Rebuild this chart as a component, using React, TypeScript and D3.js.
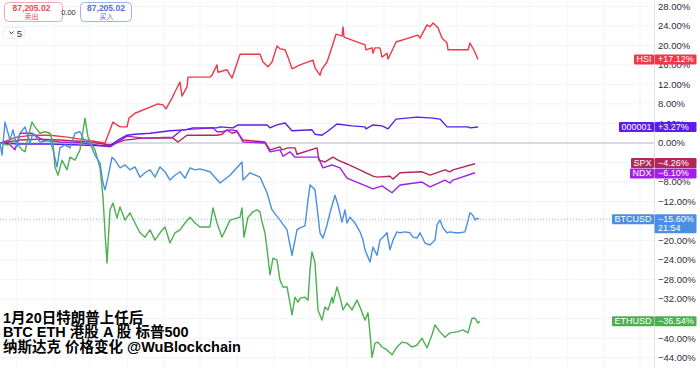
import React from 'react';
import * as d3 from 'd3';

type P = [number, number];

// [day offset, % change]
const HSI: P[] = [
  [0, 0], [1.7, 1.2], [3.2, 1.6], [5.0, 1.6], [6.7, 1.2], [8.7, 0.6], [10.5, 0], [11.3, 4.3], [11.7, 3.7], [12.0, 3.3],
  [12.7, 3.3], [12.9, 5.1], [13.5, 6.1], [15.8, 8.0], [16.3, 7.8], [16.6, 7.0], [17.2, 9.2], [17.5, 10.5], [18.0, 12.5],
  [18.2, 9.6], [18.7, 11.5], [18.8, 13.5], [21.0, 13.5], [21.2, 13.9], [21.7, 16.0], [21.8, 14.5], [22.7, 15.0],
  [23.2, 13.3], [23.3, 13.9], [24.0, 18.2], [26.0, 18.2], [26.3, 16.6], [26.8, 15.6], [27.2, 16.6], [27.7, 19.9],
  [28.0, 19.3], [28.5, 19.1], [28.8, 17.6], [29.2, 15.2], [30.0, 16.0], [31.3, 17.0], [31.5, 15.4], [32.0, 13.9],
  [32.2, 15.2], [32.7, 16.6], [33.0, 18.4], [33.6, 22.3], [34.2, 21.9], [34.3, 23.8], [34.4, 21.7], [36.5, 20.1],
  [36.6, 19.1], [37.2, 19.5], [37.3, 18.4], [37.5, 19.5], [38.0, 19.5], [38.2, 17.6], [38.7, 18.4], [38.8, 17.2],
  [39.3, 19.3], [39.6, 20.7], [41.8, 22.1], [42.0, 21.5], [42.7, 24.2], [43.0, 23.8], [43.3, 24.6], [43.8, 23.6],
  [44.2, 21.5], [44.7, 20.5], [44.8, 19.1], [46.8, 19.1], [47.0, 20.5], [47.5, 18.6], [47.8, 17.12],
];

const SSE: P[] = [
  [0, 0], [2.0, -0.2], [5.0, -0.2], [8.0, -0.4], [11.0, -0.6], [11.8, 0.6], [12.7, 1.6], [13.5, 1.8], [15.0, 2.0],
  [17.0, 2.5], [18.5, 2.7], [19.3, 3.1], [21.7, 3.1], [22.0, 3.3], [23.3, 3.1], [23.8, 3.7], [26.7, 3.7], [27.0, 3.1],
  [27.7, 3.7], [28.5, 4.1], [29.2, 2.5], [31.2, 2.7], [31.5, 1.8], [32.2, 1.6], [32.7, 2.3], [33.7, 3.9], [35.2, 3.5],
  [36.5, 3.3], [36.6, 2.9], [37.3, 3.7], [38.2, 3.5], [38.8, 2.9], [39.6, 4.9], [41.7, 5.3], [43.3, 5.1], [44.0, 4.9],
  [44.7, 3.3], [46.8, 3.3], [47.0, 3.1], [47.8, 3.27],
];

const SPX: P[] = [
  [0, 0], [2.0, 0.6], [4.0, 0.8], [6.0, 0.6], [9.0, 0.2], [11.0, -0.4], [12.5, 0.6], [14.3, 1.0], [17.3, 1.0],
  [17.8, 0.2], [18.7, 1.6], [21.7, 1.6], [22.2, 1.8], [22.7, 2.7], [23.2, 2.0], [23.7, 2.3], [24.3, 0.6], [26.5, 0.2],
  [27.0, -1.4], [28.0, -0.8], [28.2, -1.4], [28.8, -1.0], [29.5, -1.0], [29.7, -2.3], [31.7, -1.0], [31.9, -3.5],
  [32.5, -3.9], [32.8, -3.5], [33.3, -2.9], [33.8, -3.5], [34.7, -4.3], [37.3, -6.8], [37.7, -7.0], [39.0, -6.8],
  [39.3, -7.4], [40.0, -6.1], [42.2, -5.9], [43.0, -6.6], [44.5, -5.5], [45.0, -5.9], [45.3, -5.5], [47.5, -4.26],
];

const NDX: P[] = [
  [0, 0], [0.8, 0], [1.5, -1.4], [2.0, 2.0], [3.2, 2.0], [4.3, 0.6], [6.0, 0.2], [8.3, 0], [11.0, -0.8], [12.7, 1.4],
  [14.3, 1.0], [17.3, 1.2], [18.2, 2.7], [21.3, 3.1], [21.7, 2.3], [22.2, 2.3], [23.0, 2.7], [23.7, 2.5], [24.3, 0.2],
  [26.5, 0], [27.0, -1.8], [28.0, -1.4], [28.3, -2.7], [29.0, -1.8], [29.5, -2.9], [30.7, -2.9], [31.8, -2.9],
  [32.3, -5.1], [33.2, -4.5], [34.0, -5.1], [34.7, -7.2], [37.3, -9.4], [38.2, -8.8], [39.2, -10.2], [40.0, -8.6],
  [42.2, -8.0], [43.0, -9.0], [44.5, -7.6], [45.0, -8.2], [45.3, -7.6], [47.5, -6.1],
];

const BTC: P[] = [
  [0, 0], [0.2, -2.5], [0.5, 4.3], [1.0, 0.6], [1.3, 2.7], [1.7, -0.8], [2.0, 2.0], [2.5, 3.3], [3.0, 0], [3.3, 2.0],
  [4.0, 0.2], [5.0, 0.6], [5.3, -1.4], [5.7, -4.9], [6.0, -1.0], [6.5, -0.4], [7.0, -1.0], [7.5, 2.0], [8.0, 2.3],
  [8.5, 0.2], [9.0, 0], [9.5, -2.5], [10.0, -4.1], [10.3, -8.2], [10.5, -9.6], [10.8, -7.0], [11.2, -2.9], [11.5, -3.5],
  [12.0, -5.1], [12.5, -4.5], [13.0, -5.5], [13.5, -4.9], [14.0, -7.0], [14.5, -6.1], [15.0, -5.5], [15.5, -7.0],
  [16.0, -4.9], [16.5, -5.9], [17.0, -7.6], [17.5, -6.6], [18.0, -5.9], [18.5, -7.2], [19.0, -5.1], [19.5, -5.5],
  [20.0, -5.3], [21.0, -5.9], [22.0, -8.2], [23.0, -6.6], [24.2, -3.9], [24.3, -7.6], [25.0, -6.1], [26.0, -7.0],
  [26.7, -10.2], [27.2, -13.7], [28.0, -15.8], [28.7, -17.8], [29.2, -23.0], [29.7, -17.8], [30.0, -17.4],
  [30.5, -17.0], [30.8, -11.7], [31.0, -8.6], [31.5, -9.6], [31.8, -14.8], [32.0, -18.4], [32.3, -19.5],
  [32.7, -16.8], [33.0, -14.3], [33.5, -10.7], [33.8, -12.7], [34.2, -16.2], [34.5, -13.7], [34.7, -16.4],
  [35.0, -15.2], [35.5, -16.4], [36.0, -18.2], [36.3, -19.9], [36.5, -21.9], [37.0, -24.4], [37.3, -21.3],
  [37.7, -23.0], [38.0, -19.9], [38.3, -19.3], [38.7, -18.4], [39.0, -21.9], [39.3, -19.9], [39.7, -18.2],
  [40.0, -18.4], [40.5, -18.2], [41.0, -18.4], [41.3, -19.3], [41.7, -19.5], [42.0, -18.4], [42.5, -20.5],
  [43.0, -20.9], [43.5, -19.9], [43.7, -16.8], [44.0, -15.8], [44.3, -17.4], [44.7, -18.4], [45.0, -18.2],
  [45.5, -18.4], [46.0, -18.4], [46.5, -18.2], [47.0, -14.3], [47.3, -14.8], [47.5, -15.8], [47.7, -15.4], [47.9, -15.6],
];

const ETH: P[] = [
  [0, 0], [0.8, -0.4], [1.5, 0.6], [2.2, -1.4], [2.5, -1.8], [2.8, 1.2], [3.2, 4.3], [3.5, 3.3], [4.0, 2.0], [4.5, 2.3],
  [5.0, 2.0], [5.3, 0], [5.5, -4.9], [5.8, -6.6], [6.2, -3.5], [6.7, -5.5], [7.0, -2.9], [7.5, -3.5], [8.0, -1.4],
  [8.5, 5.1], [8.8, 1.2], [9.2, -0.4], [9.5, -1.4], [10.0, -5.1], [10.3, -11.1], [10.5, -18.4], [10.7, -24.6],
  [11.0, -13.7], [11.3, -12.3], [11.7, -15.4], [12.0, -13.1], [12.5, -15.8], [13.0, -14.3], [13.5, -16.4],
  [14.0, -18.4], [14.5, -19.3], [15.0, -17.8], [15.5, -19.9], [16.0, -18.4], [16.5, -17.2], [17.0, -20.5],
  [17.5, -18.4], [18.0, -17.8], [18.5, -16.4], [19.0, -15.2], [19.5, -16.4], [20.0, -17.2], [21.0, -17.2],
  [21.3, -13.3], [21.7, -16.4], [22.2, -19.3], [23.0, -15.8], [24.0, -15.2], [24.2, -13.3], [24.4, -19.3],
  [24.8, -15.2], [25.3, -14.1], [25.7, -13.7], [26.0, -14.1], [26.2, -16.2], [26.5, -18.4], [26.8, -23.4],
  [27.0, -27.0], [27.3, -23.6], [27.7, -24.0], [28.0, -28.1], [28.3, -29.5], [28.7, -29.5], [29.0, -32.8],
  [29.2, -35.2], [29.5, -31.6], [29.8, -32.6], [30.0, -31.8], [30.5, -31.6], [30.8, -32.2], [31.0, -26.0],
  [31.2, -22.3], [31.5, -24.6], [31.8, -34.2], [32.2, -36.3], [32.5, -33.6], [32.8, -34.2], [33.2, -31.6],
  [33.3, -32.8], [33.7, -29.5], [34.0, -31.6], [34.3, -34.2], [34.7, -32.8], [35.2, -34.2], [35.7, -32.2],
  [36.0, -33.6], [36.5, -36.3], [36.8, -34.8], [37.0, -38.9], [37.2, -43.9], [37.5, -41.0], [37.8, -40.8],
  [38.2, -41.8], [38.7, -42.4], [39.2, -43.4], [39.7, -41.8], [40.2, -40.8], [40.7, -41.0], [41.2, -41.8],
  [41.7, -41.4], [42.2, -40.0], [42.7, -42.0], [43.2, -39.3], [43.5, -37.3], [44.0, -38.7], [44.5, -39.8],
  [45.0, -38.9], [45.7, -38.7], [46.3, -38.3], [46.8, -38.9], [47.2, -35.9], [47.5, -35.9], [47.8, -36.9], [48.0, -36.54],
];

const Y_TICKS = [28, 24, 20, 16, 12, 8, 4, 0, -4, -8, -12, -16, -20, -24, -28, -32, -36, -40, -44];
const X_GRID = [1.7, 5.4, 9.0, 12.7, 16.4, 20.0, 23.7, 27.4, 31.0, 34.7, 38.4, 42.0, 45.7, 49.4, 53.0, 56.7, 60.4, 64.0];
const TITLE = ['1月20日特朗普上任后', 'BTC ETH 港股 A 股 标普500', '纳斯达克 价格变化 @WuBlockchain'];
const BTC_TIME = '21:54';
const PRICE = '87,205.02';
const SPREAD = '0.00';
const QTY = '5';

const SERIES = [
  { name: 'HSI', color: '#f23645', data: HSI },
  { name: 'SPX', color: '#b2285a', data: SPX },
  { name: 'NDX', color: '#a21fe6', data: NDX },
  { name: '000001', color: '#5b1ee8', data: SSE },
  { name: 'ETHUSD', color: '#4caf50', data: ETH },
  { name: 'BTCUSD', color: '#4a8fe0', data: BTC },
];

const W = 700;
const H = 368;
const AXIS_X = 654;
const TAG_RIGHT = 696;
const FONT = '"Liberation Sans", Arial, sans-serif';

const fmt = (v: number) => (v < 0 ? '\u2212' : v > 0 ? '+' : '') + Math.abs(v).toFixed(2) + '%';
const fmtAxis = (v: number) => (v < 0 ? '\u2212' : '') + Math.abs(v).toFixed(2) + '%';

let ctx: CanvasRenderingContext2D | null = null;
function textW(s: string, font: string) {
  if (!ctx) ctx = document.createElement('canvas').getContext('2d');
  if (!ctx) return s.length * 5;
  ctx.font = font;
  return ctx.measureText(s).width;
}

export default function App() {
  const x = d3.scaleLinear().domain([0, 65.4]).range([0, AXIS_X]);
  const y = d3.scaleLinear().domain([0, 28]).range([143, 143 - 28 * 4.88]);
  const line = d3.line<P>().x((d) => x(d[0])).y((d) => y(d[1]));

  const tagH = 10;
  const tags = SERIES.map((s) => {
    const last = s.data[s.data.length - 1][1];
    return { ...s, last, cy: y(last), h: s.name === 'BTCUSD' ? 19 : tagH };
  }).sort((a, b) => a.cy - b.cy);
  for (let i = 1; i < tags.length; i++) {
    const prev = tags[i - 1];
    const cur = tags[i];
    const minGap = tagH + 0.5;
    if (cur.cy - prev.cy < minGap) {
      const shift = (minGap - (cur.cy - prev.cy)) / 2;
      prev.cy -= shift;
      cur.cy += shift;
    }
  }

  // axis labels fully covered by a tag are not shown (as in the reference)
  const visibleTicks = Y_TICKS.filter((v) => {
    const ty = y(v);
    return !tags.some((t) => {
      const top = t.cy - tagH / 2;
      return ty - 3 >= top - 1 && ty + 3 <= top + t.h + 1;
    });
  });

  const btcLast = BTC[BTC.length - 1][1];
  const tagFont = `9px ${FONT}`;

  return (
    <div style={{ position: 'absolute', left: 0, top: 0, width: W, height: H, background: '#fff' }}>
      <svg width={W} height={H} style={{ display: 'block' }} fontFamily={FONT}>
        <rect width={W} height={H} fill="#fff" />
        {X_GRID.map((t) => (
          <line key={'vx' + t} x1={x(t)} x2={x(t)} y1={0} y2={H} stroke="#f0f3fa" strokeWidth={1} />
        ))}
        {Y_TICKS.map((v) => (
          <line key={'hy' + v} x1={0} x2={AXIS_X} y1={y(v)} y2={y(v)} stroke="#f0f3fa" strokeWidth={1} />
        ))}
        <line x1={0} x2={AXIS_X} y1={y(0)} y2={y(0)} stroke="#b8bbc3" strokeWidth={1.2} />
        <line x1={0} x2={AXIS_X} y1={y(btcLast)} y2={y(btcLast)} stroke="#4a8fe0" strokeOpacity={0.6} strokeWidth={1} strokeDasharray="1,2" />
        <line x1={AXIS_X + 0.5} x2={AXIS_X + 0.5} y1={0} y2={H} stroke="#e0e3eb" strokeWidth={1} />
        {SERIES.map((s) => (
          <path key={s.name} d={line(s.data) || ''} fill="none" stroke={s.color} strokeWidth={1.4} strokeLinejoin="round" />
        ))}
        {visibleTicks.map((v) => (
          <text key={'yl' + v} x={AXIS_X + 4} y={y(v)} dy="0.35em" fontSize={9.5} fill="#2a2e39">
            {fmtAxis(v)}
          </text>
        ))}
        {tags.map((t) => {
          const nw = textW(t.name, tagFont) + 5;
          const top = t.cy - tagH / 2;
          return (
            <g key={'tag' + t.name}>
              <rect x={AXIS_X - nw} y={top} width={nw} height={tagH} fill={t.color} rx={1} />
              <text x={AXIS_X - nw / 2} y={top + 7.8} fontSize={9} fill="#fff" textAnchor="middle">{t.name}</text>
              <rect x={AXIS_X + 0.5} y={top} width={TAG_RIGHT - AXIS_X} height={t.h} fill={t.color} rx={1} />
              <text x={AXIS_X + 4} y={top + 7.8} fontSize={9} fill="#fff">{fmt(t.last)}</text>
              {t.name === 'BTCUSD' && (
                <text x={AXIS_X + 4} y={top + 16.8} fontSize={9} fill="#fff">{BTC_TIME}</text>
              )}
            </g>
          );
        })}
        <rect x={4.5} y={2.5} width={58} height={19} rx={4} fill="#fff" stroke="#f5a5ad" />
        <text x={31.5} y={10.5} fontSize={8.5} fontWeight="bold" fill="#e84a57" textAnchor="middle">{PRICE}</text>
        <text x={31.5} y={19} fontSize={7} fill="#e84a57" textAnchor="middle" fontFamily='"Noto Sans CJK SC", sans-serif'>卖出</text>
        <text x={68.5} y={15} fontSize={7.5} fill="#2a2e39" textAnchor="middle">{SPREAD}</text>
        <rect x={80.5} y={2.5} width={51} height={19} rx={4} fill="#fff" stroke="#9db2f0" />
        <text x={106} y={10.5} fontSize={8.5} fontWeight="bold" fill="#4d6fe0" textAnchor="middle">{PRICE}</text>
        <text x={106.5} y={19} fontSize={7} fill="#4d6fe0" textAnchor="middle" fontFamily='"Noto Sans CJK SC", sans-serif'>买入</text>
        <rect x={3.5} y={27.5} width={21} height={11} rx={2} fill="#fff" stroke="#eceef2" />
        <polyline points="9.5,31.5 11.5,33.8 13.5,31.5" fill="none" stroke="#2a2e39" strokeWidth={1} />
        <text x={19.5} y={36.5} fontSize={9.5} fill="#2a2e39" textAnchor="middle">{QTY}</text>
        {TITLE.map((t, i) => (
          <text
            key={'t' + i}
            x={3}
            y={322.5 + i * 14.5}
            fontSize={14.5}
            fontWeight="bold"
            fill="#000"
            fontFamily='"Liberation Sans", "Noto Sans CJK SC", sans-serif'
          >
            {t}
          </text>
        ))}
      </svg>
    </div>
  );
}
